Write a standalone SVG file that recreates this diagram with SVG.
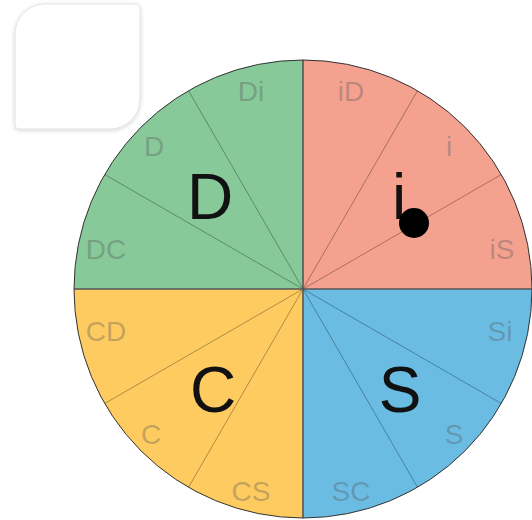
<svg xmlns="http://www.w3.org/2000/svg" width="532" height="520" viewBox="0 0 532 520">
<defs>
<filter id="sh" x="-20%" y="-20%" width="140%" height="140%">
<feDropShadow dx="0" dy="1" stdDeviation="2" flood-color="#000" flood-opacity="0.18"/>
</filter>
</defs>
<style>
.q{stroke:none}
.sp{stroke:#000;stroke-opacity:0.45;stroke-width:0.7;fill:none}
.ax{stroke:#555;stroke-width:1.6;fill:none}
.rim{stroke:#333;stroke-width:1;fill:none}
.sm{font-family:"Liberation Sans",Arial,sans-serif;font-size:28px;fill:#555;fill-opacity:0.35;text-anchor:middle}
.big{font-family:"Liberation Sans",Arial,sans-serif;font-size:64px;fill:#111;text-anchor:middle}
</style>
<rect width="532" height="520" fill="#fff"/>
<g id="card">
<path d="M45,4 L135,4 Q140,4 140,9 L140,99 A30,30 0 0 1 110,129 L20,129 Q15,129 15,124 L15,34 A30,30 0 0 1 45,4 Z" fill="#fff" stroke="#e2e2e2" stroke-width="1" filter="url(#sh)"/>
</g>
<g id="quadrant-D">
<path class="q" d="M303,289 L74,289 A229,229 0 0 1 303,60 Z" fill="#88C999"/>
</g>
<g id="quadrant-i">
<path class="q" d="M303,289 L303,60 A229,229 0 0 1 532,289 Z" fill="#F4A190"/>
</g>
<g id="quadrant-S">
<path class="q" d="M303,289 L532,289 A229,229 0 0 1 303,518 Z" fill="#6BBCE3"/>
</g>
<g id="quadrant-C">
<path class="q" d="M303,289 L303,518 A229,229 0 0 1 74,289 Z" fill="#FDCB60"/>
</g>
<g id="connectors">
<path class="sp" d="M303,289 L188.5,90.7 M303,289 L104.7,174.5 M303,289 L417.5,90.7 M303,289 L501.3,174.5 M303,289 L501.3,403.5 M303,289 L417.5,487.3 M303,289 L104.7,403.5 M303,289 L188.5,487.3"/>
<path class="ax" d="M74,289 L532,289 M303,60 L303,518"/>
<circle class="rim" cx="303" cy="289" r="229"/>
</g>
<g id="labels">
<text class="sm" x="251" y="101">Di</text>
<text class="sm" x="351" y="101">iD</text>
<text class="sm" x="449" y="156">i</text>
<text class="sm" x="502" y="259">iS</text>
<text class="sm" x="500" y="341">Si</text>
<text class="sm" x="454" y="444">S</text>
<text class="sm" x="351" y="501">SC</text>
<text class="sm" x="251" y="501">CS</text>
<text class="sm" x="151" y="444">C</text>
<text class="sm" x="106" y="341">CD</text>
<text class="sm" x="106" y="259">DC</text>
<text class="sm" x="154" y="156">D</text>
</g>
<g id="big-D"><text class="big" x="210" y="219">D</text></g>
<g id="big-i"><text class="big" x="399" y="219">i</text></g>
<g id="big-C"><text class="big" x="213" y="412">C</text></g>
<g id="big-S"><text class="big" x="400" y="412">S</text></g>
<g id="marker"><circle cx="414" cy="223" r="15" fill="#000"/></g>
</svg>
